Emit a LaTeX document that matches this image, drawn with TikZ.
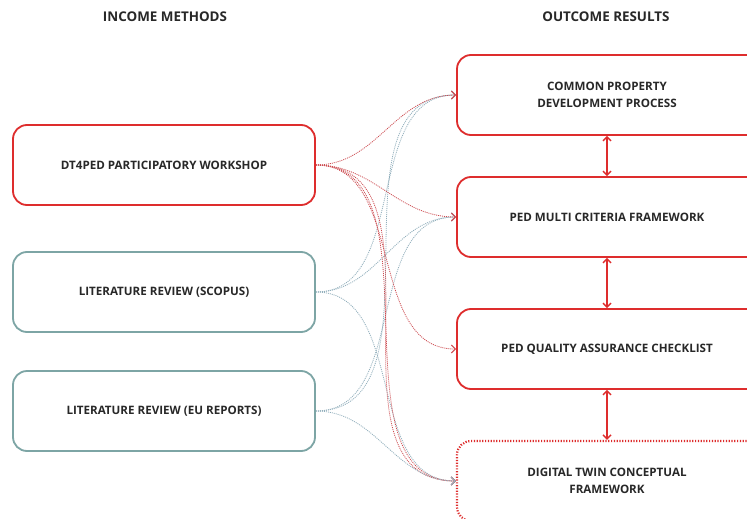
\documentclass[tikz,border=0pt]{standalone}
\usepackage{fontspec}
\setmainfont{Open Sans}[BoldFont=* Bold]
\usetikzlibrary{arrows.meta}
\definecolor{boxred}{RGB}{222,45,45}
\definecolor{boxteal}{RGB}{125,165,165}
\definecolor{linkred}{RGB}{205,75,80}
\definecolor{linkteal}{RGB}{145,175,188}
\definecolor{txt}{RGB}{40,40,40}
\tikzset{
  x=1pt,y=-1pt,
  bfont/.style={font=\bfseries\fontsize{11.6}{16.5}\selectfont},
  inbox/.style={draw, line width=1.8pt, rounded corners=14pt, minimum width=302pt, minimum height=80pt, text=txt, bfont, align=center},
  redbox/.style={inbox, draw=boxred},
  tealbox/.style={inbox, draw=boxteal},
  outbox/.style={draw=boxred, line width=1.8pt, rounded corners=14pt, minimum width=340pt, minimum height=80pt},
  dotbox/.style={outbox, line width=2.2pt, dash pattern=on 1.2pt off 1.6pt},
  otext/.style={text=txt, bfont, align=center},
  header/.style={text=txt, font=\bfseries\fontsize{13.4}{15}\selectfont},
  link/.style={line width=0.8pt, dash pattern=on 1pt off 1pt, -{Straight Barb[length=4pt,width=8pt,line width=1pt]}},
  rlink/.style={link, draw=linkred},
  tlink/.style={link, draw=linkteal},
  dbl/.style={draw=boxred, line width=1.4pt, {Straight Barb[length=4pt,width=8pt]}-{Straight Barb[length=4pt,width=8pt]}}
}
\begin{document}
\begin{tikzpicture}
\clip (0,0) rectangle (747,519);
\fill[white] (0,0) rectangle (747,519);
\node[header] (h1) at (165,17) {INCOME METHODS};
\node[header] (h2) at (606,17) {OUTCOME RESULTS};

\node[redbox] (w) at (164,165) {DT4PED PARTICIPATORY WORKSHOP};
\node[tealbox] (s) at (164,292) {LITERATURE REVIEW (SCOPUS)};
\node[tealbox] (e) at (164,411) {LITERATURE REVIEW (EU REPORTS)};

\node[outbox] (o1) at (627,95) {};
\node[otext] (t1) at (607,95) {COMMON PROPERTY\\DEVELOPMENT PROCESS};
\node[outbox] (o2) at (627,217) {};
\node[otext] (t2) at (607,217) {PED MULTI CRITERIA FRAMEWORK};
\node[outbox] (o3) at (627,349) {};
\node[otext] (t3) at (607,349) {PED QUALITY ASSURANCE CHECKLIST};
\node[dotbox] (o4) at (627,481) {};
\node[otext] (t4) at (607,481) {DIGITAL TWIN CONCEPTUAL\\FRAMEWORK};

\coordinate (a1) at (o1.south -| t1);
\coordinate (b2) at (o2.north -| t1);
\coordinate (a2) at (o2.south -| t1);
\coordinate (b3) at (o3.north -| t1);
\coordinate (a3) at (o3.south -| t1);
\coordinate (b4) at (o4.north -| t1);
\draw[dbl] (a1) -- (b2);
\draw[dbl] (a2) -- (b3);
\draw[dbl] (a3) -- (b4);

% teal links
\draw[tlink] (s.east) to[out=0,in=180] (o1.west);
\draw[tlink] (s.east) to[out=0,in=180] (o2.west);
\draw[tlink] (s.east) to[out=0,in=180] (o4.west);
\draw[tlink] (e.east) to[out=0,in=180] (o1.west);
\draw[tlink] (e.east) to[out=0,in=180] (o2.west);
% red links
\draw[rlink] (w.east) to[out=0,in=180] (o1.west);
\draw[rlink] (w.east) to[out=0,in=180] (o2.west);
\draw[rlink] (w.east) to[out=0,in=180] (o3.west);
\draw[rlink] (w.east) to[out=0,in=180,looseness=0.95] (o4.west);
\draw[rlink] (w.east) to[out=0,in=180,looseness=1.05] (o4.west);
\draw[tlink] (e.east) to[out=0,in=180] (o4.west);
\end{tikzpicture}
\end{document}
